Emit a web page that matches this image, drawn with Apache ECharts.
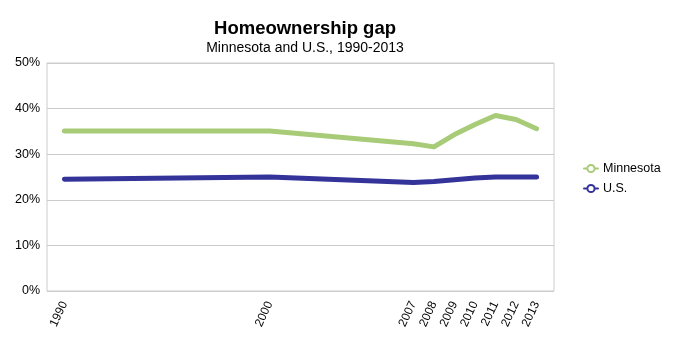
<!DOCTYPE html>
<html>
<head>
<meta charset="utf-8">
<script src="https://cdn.jsdelivr.net/npm/echarts@6/dist/echarts.min.js"></script>
<style>html,body{margin:0;padding:0;background:#fff}#c{width:680px;height:360px}</style>
</head>
<body>
<div id="c"></div>
<script>
var years = [1990, 2000, 2007, 2008, 2009, 2010, 2011, 2012, 2013];
var minnesota = [35.1, 35.1, 32.3, 31.6, 34.3, 36.5, 38.5, 37.6, 35.6];
var us = [24.5, 25.0, 23.8, 24.0, 24.4, 24.8, 25.0, 25.0, 25.0];
var yTicks = [0, 10, 20, 30, 40, 50];

function pairs(xs, ys) { return xs.map(function (x, i) { return [x, ys[i]]; }); }

var chart = echarts.init(document.getElementById('c'));
var font = 'Liberation Sans, Arial, sans-serif';
chart.setOption({
  animation: false,
  textStyle: { fontFamily: font },
  title: {
    text: 'Homeownership gap',
    subtext: 'Minnesota and U.S., 1990-2013',
    left: 300, textAlign: 'center', top: 14,
    itemGap: 3,
    textStyle: { fontFamily: font, fontSize: 18.5, fontWeight: 'bold', color: '#000' },
    subtextStyle: { fontFamily: font, fontSize: 14, color: '#000' }
  },
  legend: {
    orient: 'vertical', left: 578, top: 157, itemGap: 7,
    itemWidth: 14, itemHeight: 9,
    textStyle: { fontFamily: font, fontSize: 12.5, color: '#000' },
    data: ['Minnesota', 'U.S.']
  },
  grid: { left: 47, right: 126, top: 63, bottom: 69, show: true, borderColor: '#ccc', borderWidth: 1 },
  xAxis: {
    type: 'value', min: 1989.15, max: 2013.85,
    axisLine: { show: false }, axisTick: { show: false }, splitLine: { show: false },
    axisLabel: {
      customValues: years, rotate: 65, fontSize: 12, color: '#000', margin: 11,
      formatter: function (v) { return String(v); }
    }
  },
  yAxis: {
    type: 'value', min: 0, max: 50, interval: 10,
    axisLine: { show: false }, axisTick: { show: false },
    splitLine: { lineStyle: { color: '#ccc', width: 1 } },
    axisLabel: { fontSize: 12.5, color: '#000', margin: 7, padding: [3, 0, 0, 0], formatter: '{value}%' }
  },
  series: [
    { name: 'Minnesota', type: 'line', data: pairs(years, minnesota), showSymbol: false, symbol: 'emptyCircle',
      color: '#a8cb78', lineStyle: { width: 5, cap: 'round', join: 'round' } },
    { name: 'U.S.', type: 'line', data: pairs(years, us), showSymbol: false, symbol: 'emptyCircle',
      color: '#333399', lineStyle: { width: 5, cap: 'round', join: 'round' } }
  ]
});
</script>
</body>
</html>
